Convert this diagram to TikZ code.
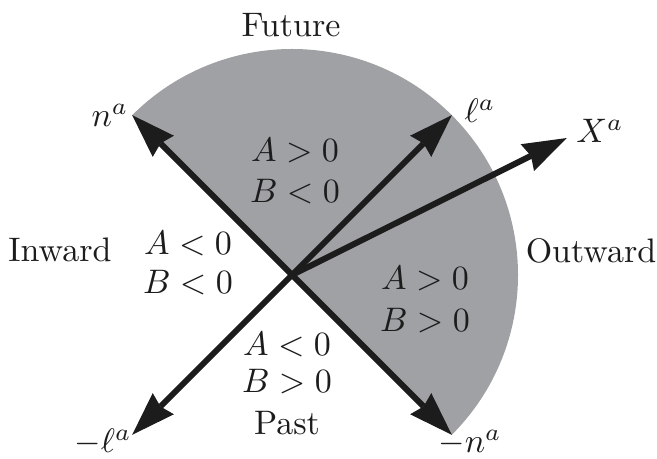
\documentclass[tikz,border=0pt]{standalone}
\usetikzlibrary{arrows.meta,calc}
\definecolor{discgray}{RGB}{160,161,164}
\definecolor{ink}{RGB}{28,28,28}
\begin{document}
\begin{tikzpicture}[x=0.5pt,y=0.5pt,
  vec/.style={draw=ink, line width=3pt, -{Stealth[length=22pt,width=15pt,inset=2pt,line width=0pt]}},
  lbl/.style={font=\fontsize{10}{12}\selectfont, scale=1.7, inner sep=0pt, anchor=base, text=ink}]
\useasboundingbox (0,0) rectangle (657,459);
\coordinate (O) at (292,184);
\coordinate (n) at ($(O)+(135:226)$);
\coordinate (mn) at ($(O)+(-45:226)$);
\coordinate (l) at ($(O)+(45:226)$);
\coordinate (ml) at ($(O)+(-135:226)$);
\coordinate (X) at ($(O)+(26.5:307)$);
% shaded half disc
\fill[discgray] (n) arc[start angle=135, end angle=-45, radius=226] -- cycle;
% vectors
\draw[vec] (O) -- (n);
\draw[vec] (O) -- (mn);
\draw[vec] (O) -- (l);
\draw[vec] (O) -- (ml);
\draw[vec] (O) -- (X);
% vector labels
\node[lbl] (tn) at (110,332) {$n^a$};
\node[lbl] (tmn) at (470,6) {$-n^a$};
\node[lbl] (tl) at (480,336) {$\ell^a$};
\node[lbl] (tml) at (103,6) {$-\ell^a$};
\node[lbl] (tX) at (600,316) {$X^a$};
% direction labels
\node[lbl] (future) at (291,422) {Future};
\node[lbl] (past) at (287,24) {Past};
\node[lbl] (inward) at (60,197) {Inward};
\node[lbl] (outward) at (591,196) {Outward};
% region conditions
\node[lbl] (ua) at (295,297) {$A>0$};
\node[lbl] (ub) at (295,256) {$B<0$};
\node[lbl] (la) at (188,204) {$A<0$};
\node[lbl] (lb) at (188,165) {$B<0$};
\node[lbl] (ra) at (425,169) {$A>0$};
\node[lbl] (rb) at (425,127) {$B>0$};
\node[lbl] (da) at (287,103) {$A<0$};
\node[lbl] (db) at (287,66) {$B>0$};
\end{tikzpicture}
\end{document}
